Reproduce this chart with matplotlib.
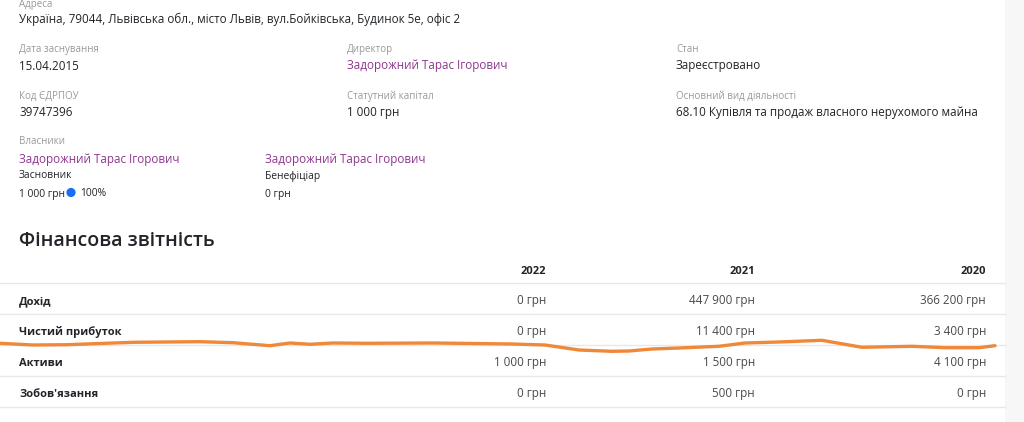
import matplotlib.pyplot as plt
from matplotlib.patches import Circle, Rectangle

plt.rcParams['font.family'] = ['Open Sans', 'DejaVu Sans']

# --- company card ---
address_label = "Адреса"
address = "Україна, 79044, Львівська обл., місто Львів, вул.Бойківська, Будинок 5е, офіс 2"

info_labels = ["Дата заснування", "Директор", "Стан",
               "Код ЄДРПОУ", "Статутний капітал", "Основний вид діяльності"]
info_values = ["15.04.2015", "Задорожний Тарас Ігорович", "Зареєстровано",
               "39747396", "1 000 грн", "68.10 Купівля та продаж власного нерухомого майна"]
info_is_link = [False, True, False, False, False, False]

owners_label = "Власники"
owner_names = ["Задорожний Тарас Ігорович", "Задорожний Тарас Ігорович"]
owner_roles = ["Засновник", "Бенефіціар"]
owner_amounts = ["1 000 грн", "0 грн"]
owner_share = "100%"

# --- financial table ---
fin_title = "Фінансова звітність"
years = ["2022", "2021", "2020"]
row_labels = ["Дохід", "Чистий прибуток", "Активи", "Зобов'язання"]
fin_values = [
    ["0 грн", "447 900 грн", "366 200 грн"],
    ["0 грн", "11 400 грн", "3 400 грн"],
    ["1 000 грн", "1 500 грн", "4 100 грн"],
    ["0 грн", "500 грн", "0 грн"],
]

# hand drawn orange stroke (pixel coords)
stroke_x = [0, 33, 67, 133, 200, 233, 270, 290, 310, 333, 367, 433, 512, 545,
            579, 612, 629, 652, 679, 719, 745, 779, 822, 862, 912, 945, 979, 995]
stroke_y = [343.3, 345, 344.7, 342.3, 341.7, 342.7, 345.7, 343, 344.3, 343, 343.3, 343, 344, 345,
            350, 351.3, 351, 349, 348, 346.3, 343, 342, 340.3, 347.3, 346.3, 347.7, 347.7, 345.7]

DARK = "#212529"
GRAY = "#999999"
PURPLE = "#8e368e"
VAL = "#4a4a4a"
LINE = "#e8e8e8"

fig = plt.figure(figsize=(10.24, 4.22), dpi=100)
ax = fig.add_axes([0, 0, 1, 1])
ax.set_xlim(0, 1024)
ax.set_ylim(422, 0)
ax.axis('off')

# light page background on the right edge
ax.add_patch(Rectangle((1005, 0), 19, 422, color="#f7f7f7", lw=0))

LBL = 7.0
BODY = 8.4
SMALL = 7.4
BOLD = 8.0

col_x = [19, 347, 676]
ax.text(19, 7.5, address_label, fontsize=LBL, color=GRAY)
ax.text(19, 23, address, fontsize=BODY, color=DARK)

label_base = [52, 98.5]
value_base = [69.5, 116]
for i in range(len(info_labels)):
    r, c = divmod(i, 3)
    ax.text(col_x[c], label_base[r], info_labels[i], fontsize=LBL, color=GRAY)
    ax.text(col_x[c], value_base[r], info_values[i], fontsize=BODY,
            color=PURPLE if info_is_link[i] else DARK)

ax.text(19, 144.5, owners_label, fontsize=LBL, color=GRAY)
owner_x = [19, 265]
for i in range(len(owner_names)):
    ax.text(owner_x[i], 163, owner_names[i], fontsize=BODY, color=PURPLE)
    ax.text(owner_x[i], 178.5, owner_roles[i], fontsize=SMALL, color=DARK)
    ax.text(owner_x[i], 196.5, owner_amounts[i], fontsize=SMALL, color=DARK)
ax.add_patch(Circle((71, 192.5), 4.6, color="#1a6ef5", lw=0))
ax.text(80, 196.5, owner_share, fontsize=SMALL, color=DARK)

# financial table
ax.text(19, 246.5, fin_title, fontsize=14, color=DARK, fontweight='semibold')
year_x = [546, 755, 986]
for j, yr in enumerate(years):
    ax.text(year_x[j], 273.5, yr, fontsize=BOLD, color=DARK, fontweight='bold', ha='right')

for yl in [283, 314, 345, 376, 407]:
    ax.plot([0, 1005], [yl, yl], color=LINE, lw=1)

row_base = [304, 334.5, 366, 397]
for i, lab in enumerate(row_labels):
    ax.text(19, row_base[i], lab, fontsize=BOLD, color=DARK, fontweight='bold')
    for j in range(len(years)):
        ax.text(year_x[j], row_base[i], fin_values[i][j], fontsize=BODY, color=VAL, ha='right')

ax.plot(stroke_x, stroke_y, color="#f0883a", lw=2.4, solid_capstyle='round',
        solid_joinstyle='round')

fig.savefig("out.png", dpi=100)
